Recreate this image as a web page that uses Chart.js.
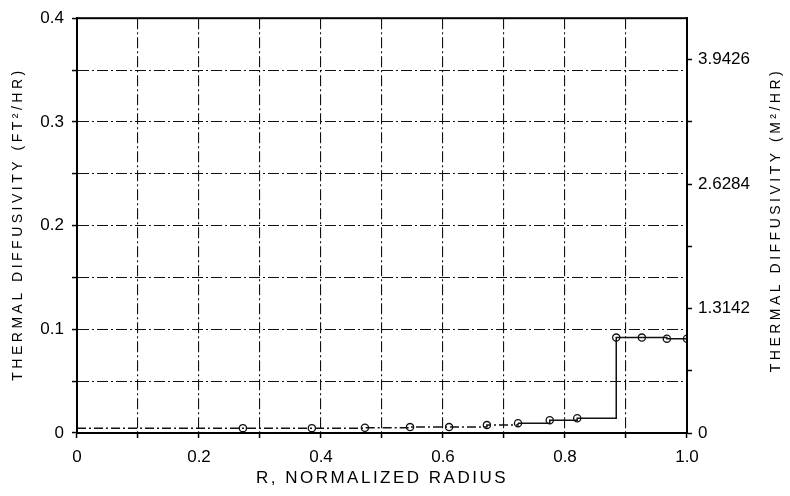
<!DOCTYPE html>
<html>
<head>
<meta charset="utf-8">
<script src="https://cdn.jsdelivr.net/npm/chart.js@4.4.1/dist/chart.umd.min.js"></script>
<style>
  html, body { margin: 0; padding: 0; background: #fff; }
  #wrap { width: 790px; height: 496px; position: relative; }
</style>
</head>
<body>
<div id="wrap"><canvas id="chart"></canvas></div>
<script>
// data
const radius      = [0, 0.272, 0.385, 0.472, 0.546, 0.610, 0.672, 0.723, 0.775, 0.820, 0.884, 0.926, 0.967, 1.0];
const diffusivity = [0.0047, 0.0047, 0.0047, 0.0050, 0.0057, 0.0057, 0.0076, 0.0095, 0.0123, 0.0142, 0.092, 0.092, 0.091, 0.091];
const hasMarker   = [false, true, true, true, true, true, true, true, true, true, true, true, true, true];

// right axis (M2/HR) ticks and labels
const rightTicks  = [0, 0.6571, 1.3142, 1.9713, 2.6284, 3.2855, 3.9426];
const rightLabels = ['0', '', '1.3142', '', '2.6284', '', '3.9426'];

const xTitle     = 'R, NORMALIZED RADIUS';
const leftTitle  = 'THERMAL DIFFUSIVITY (FT\u00B2/HR)';
const rightTitle = 'THERMAL DIFFUSIVITY (M\u00B2/HR)';

Chart.defaults.font.family = "'Liberation Sans', Arial, sans-serif";
Chart.defaults.color = '#000';

const gridDash = [11, 3, 2, 3];
const tickFont = { size: 17 };

const fmt = v => (Math.abs(v) < 1e-9 ? '0' : v.toFixed(1));

const frameAndTitles = {
    id: 'frameAndTitles',
    afterDraw(chart) {
        const { ctx, chartArea } = chart;
        ctx.save();
        // plot frame
        ctx.strokeStyle = '#000';
        ctx.lineWidth = 2;
        ctx.strokeRect(chartArea.left, chartArea.top, chartArea.right - chartArea.left, chartArea.bottom - chartArea.top);

        ctx.fillStyle = '#000';
        ctx.textAlign = 'center';
        ctx.textBaseline = 'middle';

        ctx.font = "17px 'Liberation Sans', Arial, sans-serif";
        ctx.letterSpacing = '2.5px';
        ctx.fillText(xTitle, (chartArea.left + chartArea.right) / 2, 478);

        ctx.font = "14px 'Liberation Sans', Arial, sans-serif";
        ctx.letterSpacing = '3.5px';
        ctx.save();
        ctx.translate(18, 224);
        ctx.rotate(-Math.PI / 2);
        ctx.fillText(leftTitle, 0, 0);
        ctx.restore();

        ctx.save();
        ctx.translate(776, 220);
        ctx.rotate(-Math.PI / 2);
        ctx.fillText(rightTitle, 0, 0);
        ctx.restore();

        ctx.restore();
    }
};

const points = radius.map((r, i) => ({ x: r, y: diffusivity[i] }));

new Chart(document.getElementById('chart').getContext('2d'), {
    type: 'line',
    data: {
        datasets: [{
            label: 'Thermal diffusivity',
            data: points,
            stepped: 'before',
            borderColor: '#111',
            borderWidth: 1.5,
            pointRadius: hasMarker.map(m => (m ? 3.6 : 0)),
            pointBorderColor: '#111',
            pointBorderWidth: 1.3,
            pointBackgroundColor: 'rgba(255,255,255,0)',
            segment: {
                borderDash: c => (c.p1.parsed.x <= 0.73 ? [9, 3, 2, 3] : undefined)
            },
            yAxisID: 'y'
        }]
    },
    options: {
        responsive: true,
        maintainAspectRatio: false,
        animation: false,
        layout: { padding: { top: 10, left: 0, right: 0, bottom: 0 } },
        plugins: {
            legend: { display: false },
            tooltip: { enabled: false },
            title: { display: false }
        },
        scales: {
            x: {
                type: 'linear',
                min: 0,
                max: 1,
                grid: { color: '#111', lineWidth: 1.1, tickLength: 5, tickColor: '#000', tickWidth: 1.5 },
                border: { display: true, color: '#000', width: 2, dash: gridDash },
                ticks: {
                    stepSize: 0.1,
                    padding: 9,
                    maxRotation: 0,
                    font: tickFont,
                    callback: v => (Math.round(v * 10) % 2 === 0 ? fmt(v) : '')
                },
                afterFit: s => { s.height = 63; }
            },
            y: {
                type: 'linear',
                position: 'left',
                min: 0,
                max: 0.4,
                grid: { color: '#111', lineWidth: 1.1, tickLength: 5, tickColor: '#000', tickWidth: 1.5 },
                border: { display: true, color: '#000', width: 2, dash: gridDash },
                ticks: {
                    stepSize: 0.05,
                    padding: 8,
                    font: tickFont,
                    callback: v => (Math.round(v * 100) % 10 === 0 ? fmt(v) : '')
                },
                afterFit: s => { s.width = 77; }
            },
            y2: {
                type: 'linear',
                position: 'right',
                min: 0,
                max: 4.38,
                grid: { drawOnChartArea: false, tickLength: 5, tickColor: '#000', tickWidth: 1.5 },
                border: { display: true, color: '#000', width: 2 },
                afterBuildTicks: s => { s.ticks = rightTicks.map(v => ({ value: v })); },
                ticks: {
                    padding: 6,
                    font: tickFont,
                    callback: (v, i) => rightLabels[i]
                },
                afterFit: s => { s.width = 103; }
            }
        }
    },
    plugins: [frameAndTitles]
});
</script>
</body>
</html>
